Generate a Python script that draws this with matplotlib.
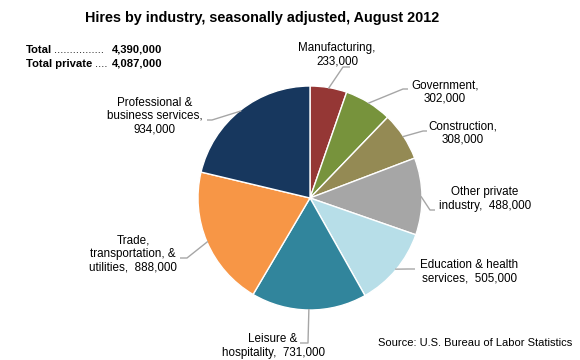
import matplotlib
matplotlib.use("Agg")
import matplotlib.pyplot as plt
import numpy as np

plt.rcParams['font.family'] = ['Liberation Sans', 'DejaVu Sans']

industries = ["Manufacturing", "Government", "Construction", "Other private industry",
              "Education & health services", "Leisure & hospitality",
              "Trade, transportation, & utilities", "Professional & business services"]
hires = [233000, 302000, 308000, 488000, 505000, 731000, 888000, 934000]
label_texts = ["Manufacturing,\n233,000", "Government,\n302,000", "Construction,\n308,000",
               "Other private\nindustry,  488,000", "Education & health\nservices,  505,000",
               "Leisure &\nhospitality,  731,000", "Trade,\ntransportation, &\nutilities,  888,000",
               "Professional &\nbusiness services,\n934,000"]
colors = ["#953735", "#77933C", "#948A54", "#A6A6A6", "#B7DEE8", "#31859C", "#F79646", "#17375E"]
total = 4390000
total_private = 4087000

W, H = 580, 360
fig = plt.figure(figsize=(W / 100, H / 100), dpi=100)
ax = fig.add_axes([0, 0, 1, 1])

def Y(y):
    return H - y

cx, cy, R = 310, 198, 112
wedges, _ = ax.pie(hires, colors=colors, startangle=90, counterclock=False,
                   center=(cx, Y(cy)), radius=R,
                   wedgeprops=dict(edgecolor='white', linewidth=1.0))
ax.set_xlim(0, W)
ax.set_ylim(0, H)
ax.set_aspect('equal')
ax.axis('off')

# label layout: (text center x, text center y, elbow x, elbow y, end x)
layout = [
    (337, 55, 343, 67, 350),
    (445, 92, 403, 89, 408),
    (463, 133, 423, 131, 427),
    (485, 199, 430, 210, 435),
    (469, 272, 408, 269, 415),
    (273, 346, 308, 343, 300),
    (133, 254, 187, 258, 180),
    (155, 116, 212, 120, 207),
]

for w, txt, (tx, ty, ex, ey, hx) in zip(wedges, label_texts, layout):
    mid = np.deg2rad((w.theta1 + w.theta2) / 2)
    sx = cx + (R - 1) * np.cos(mid)
    sy = Y(cy) + (R - 1) * np.sin(mid)
    ax.plot([sx, ex, hx], [sy, Y(ey), Y(ey)], color='#A6A6A6', lw=1.0,
            solid_capstyle='butt', zorder=1)
    ax.text(tx, Y(ty), txt, ha='center', va='center', fontsize=8.4,
            linespacing=1.15, color='black')

ax.text(262, Y(18), "Hires by industry, seasonally adjusted, August 2012",
        ha='center', va='center', fontsize=10.4, fontweight='bold')
ax.text(26, Y(50), "Total", ha='left', va='center', fontsize=8.1, fontweight='bold')
ax.text(54, Y(50), "................", ha='left', va='center', fontsize=8.1)
ax.text(26, Y(64), "Total private", ha='left', va='center', fontsize=8.1, fontweight='bold')
ax.text(95, Y(64), "....", ha='left', va='center', fontsize=8.1)
ax.text(112, Y(50), f"{total:,}", ha='left', va='center', fontsize=8.1, fontweight='bold')
ax.text(112, Y(64), f"{total_private:,}", ha='left', va='center', fontsize=8.1, fontweight='bold')
ax.text(572, Y(343), "Source: U.S. Bureau of Labor Statistics", ha='right', va='center', fontsize=8)

fig.savefig("out.png", dpi=100)
